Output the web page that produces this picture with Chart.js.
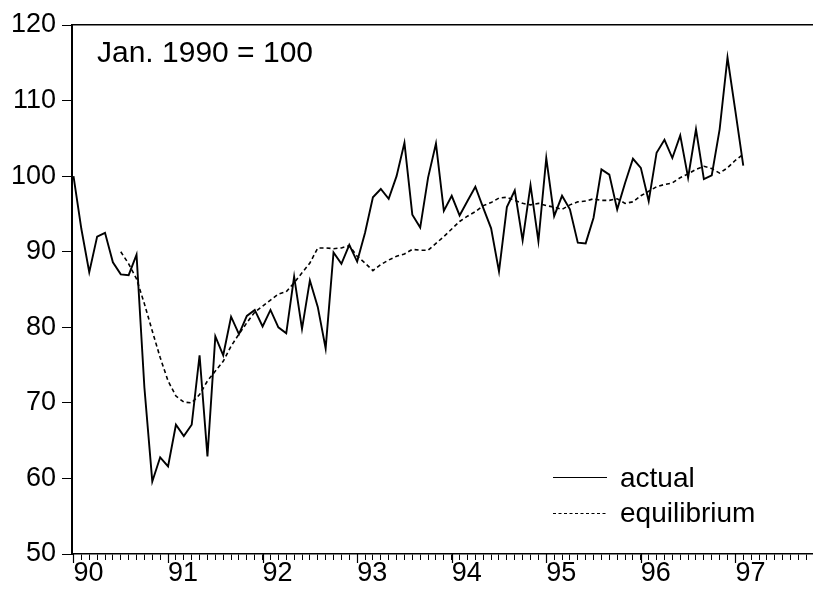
<!DOCTYPE html>
<html>
<head>
<meta charset="utf-8">
<style>
  html, body { margin: 0; padding: 0; background: #ffffff; }
  #wrap { width: 813px; height: 604px; }
</style>
<script src="https://cdn.jsdelivr.net/npm/chart.js@4/dist/chart.umd.min.js"></script>
</head>
<body>
<div id="wrap"><canvas id="c" width="813" height="604"></canvas></div>
<script>
// Monthly real exchange rate index, Jan. 1990 to Feb. 1997 (Jan. 1990 = 100)
const yearLabels = ['90', '91', '92', '93', '94', '95', '96', '97'];
const yTickValues = [50, 60, 70, 80, 90, 100, 110, 120];
const noteText = 'Jan. 1990 = 100';
const seriesNames = ['actual', 'equilibrium'];

const actual = [
  100.0, 93.0, 87.3, 92.0, 92.5, 88.6, 87.0, 86.9, 89.6, 72.0, 59.6, 62.8,
  61.6, 67.1, 65.6, 67.1, 76.3, 62.9, 78.8, 76.3, 81.4, 79.1, 81.5, 82.3,
  80.1, 82.3, 80.0, 79.2, 86.7, 79.8, 86.2, 82.7, 77.2, 89.9, 88.4, 90.9,
  88.7, 92.5, 97.2, 98.3, 97.0, 100.0, 104.4, 94.9, 93.2, 99.8, 104.3, 95.4,
  97.4, 94.8, 96.7, 98.6, 95.8, 93.1, 87.4, 95.9, 98.1, 91.5, 98.8, 91.4,
  102.4, 94.7, 97.4, 95.6, 91.2, 91.1, 94.5, 100.9, 100.2, 95.6, 99.1, 102.3,
  101.1, 96.7, 103.1, 104.8, 102.4, 105.4, 99.8, 106.2, 99.6, 100.1, 106.2, 115.7,
  108.6, 101.4
];

const equilibrium = [
  null, null, null, null, null, null, 90.0, 88.4, 86.4, 83.1, 79.5, 76.0,
  72.9, 70.9, 70.1, 70.0, 71.1, 72.9, 74.2, 75.5, 77.5, 79.1, 80.6, 82.0,
  82.8, 83.6, 84.4, 84.7, 85.9, 87.2, 88.5, 90.5, 90.5, 90.4, 90.5, 90.8,
  89.4, 88.5, 87.5, 88.3, 88.9, 89.4, 89.7, 90.3, 90.2, 90.2, 91.1, 92.0,
  93.0, 94.0, 94.7, 95.3, 96.1, 96.5, 97.1, 97.2, 96.8, 96.4, 96.2, 96.4,
  96.1, 95.9, 95.6, 96.2, 96.6, 96.7, 97.0, 96.8, 96.8, 97.0, 96.4, 96.6,
  97.4, 98.0, 98.6, 98.9, 99.1, 99.8, 100.3, 100.9, 101.3, 101.0, 100.4, 101.1,
  102.1, 102.9
];

const FONT = '"Liberation Sans", Arial, Helvetica, sans-serif';
const X_MIN = -0.19;
const X_MAX = 93.85;
const MONTHS_PER_YEAR = 12;

// month index (0 = Jan. 1990) paired with each value
const toPoints = arr => arr.map((v, i) => ({ x: i, y: v }));

// one tick per month
const monthTicks = scale => {
  const out = [];
  for (let m = Math.ceil(scale.min); m <= Math.floor(scale.max); m++) out.push({ value: m });
  scale.ticks = out;
};

// longer tick marks at the start of each year
const yearTicks = {
  id: 'yearTicks',
  afterDraw(chart) {
    const { ctx } = chart;
    const xs = chart.scales.x;
    const y0 = xs.top;
    ctx.save();
    ctx.strokeStyle = '#000';
    ctx.lineWidth = 1.2;
    yearLabels.forEach((_, k) => {
      const px = Math.round(xs.getPixelForValue(k * MONTHS_PER_YEAR)) + 0.5;
      ctx.beginPath();
      ctx.moveTo(px, y0);
      ctx.lineTo(px, y0 + 9);
      ctx.stroke();
    });
    ctx.restore();
  }
};

// note in the upper left and the legend in the lower right of the plot
const annotations = {
  id: 'annotations',
  afterDraw(chart) {
    const { ctx, chartArea: a } = chart;
    ctx.save();
    ctx.fillStyle = '#000';
    ctx.textBaseline = 'alphabetic';
    ctx.textAlign = 'left';
    ctx.font = '30px ' + FONT;
    ctx.fillText(noteText, a.left + 25, a.top + 37);

    const x0 = a.right - 260, x1 = a.right - 206, tx = a.right - 193;
    const rows = [
      { y: a.bottom - 77, base: a.bottom - 67, dash: [] },
      { y: a.bottom - 41, base: a.bottom - 32, dash: [3, 2.5] }
    ];
    ctx.strokeStyle = '#000';
    ctx.lineWidth = 1.1;
    ctx.font = '28px ' + FONT;
    rows.forEach((r, i) => {
      ctx.setLineDash(r.dash);
      ctx.beginPath();
      ctx.moveTo(x0, r.y + 0.5);
      ctx.lineTo(x1, r.y + 0.5);
      ctx.stroke();
      ctx.fillText(seriesNames[i], tx, r.base);
    });
    ctx.restore();
  }
};

new Chart(document.getElementById('c'), {
  type: 'line',
  data: {
    datasets: [
      {
        label: seriesNames[0],
        data: toPoints(actual),
        borderColor: '#000',
        borderWidth: 1.9,
        pointRadius: 0,
        tension: 0,
        fill: false
      },
      {
        label: seriesNames[1],
        data: toPoints(equilibrium),
        borderColor: '#000',
        borderWidth: 1.6,
        borderDash: [4, 3],
        pointRadius: 0,
        tension: 0,
        fill: false
      }
    ]
  },
  options: {
    responsive: false,
    animation: false,
    devicePixelRatio: 1,
    layout: { padding: { top: 25, left: 0, right: 0, bottom: 0 } },
    plugins: {
      legend: { display: false },
      tooltip: { enabled: false },
      title: { display: false }
    },
    scales: {
      x: {
        type: 'linear',
        position: 'bottom',
        min: X_MIN,
        max: X_MAX,
        afterBuildTicks: monthTicks,
        afterFit: s => { s.height = 50; },
        border: { display: true, color: '#000', width: 1.5 },
        grid: {
          display: true,
          drawOnChartArea: false,
          drawTicks: true,
          tickLength: 6,
          tickColor: '#000',
          tickWidth: 1
        },
        ticks: {
          autoSkip: false,
          maxRotation: 0,
          minRotation: 0,
          align: 'start',
          padding: 0,
          color: '#000',
          font: { family: FONT, size: 27, lineHeight: 1 },
          callback: v => (v % MONTHS_PER_YEAR === 0 && yearLabels[v / MONTHS_PER_YEAR] !== undefined)
            ? yearLabels[v / MONTHS_PER_YEAR] : ''
        }
      },
      top: {
        type: 'linear',
        position: 'top',
        min: X_MIN,
        max: X_MAX,
        afterFit: s => { s.height = 0; },
        border: { display: true, color: '#000', width: 1.5 },
        grid: { display: true, drawOnChartArea: false, drawTicks: false },
        ticks: { display: false }
      },
      y: {
        type: 'linear',
        position: 'left',
        min: yTickValues[0],
        max: yTickValues[yTickValues.length - 1],
        afterBuildTicks: s => { s.ticks = yTickValues.map(v => ({ value: v })); },
        afterFit: s => { s.width = 72; },
        border: { display: true, color: '#000', width: 2 },
        grid: {
          display: true,
          drawOnChartArea: false,
          drawTicks: true,
          tickLength: 10,
          tickColor: '#000',
          tickWidth: 1
        },
        ticks: {
          padding: 6,
          color: '#000',
          font: { family: FONT, size: 27 }
        }
      }
    }
  },
  plugins: [yearTicks, annotations]
});
</script>
</body>
</html>
